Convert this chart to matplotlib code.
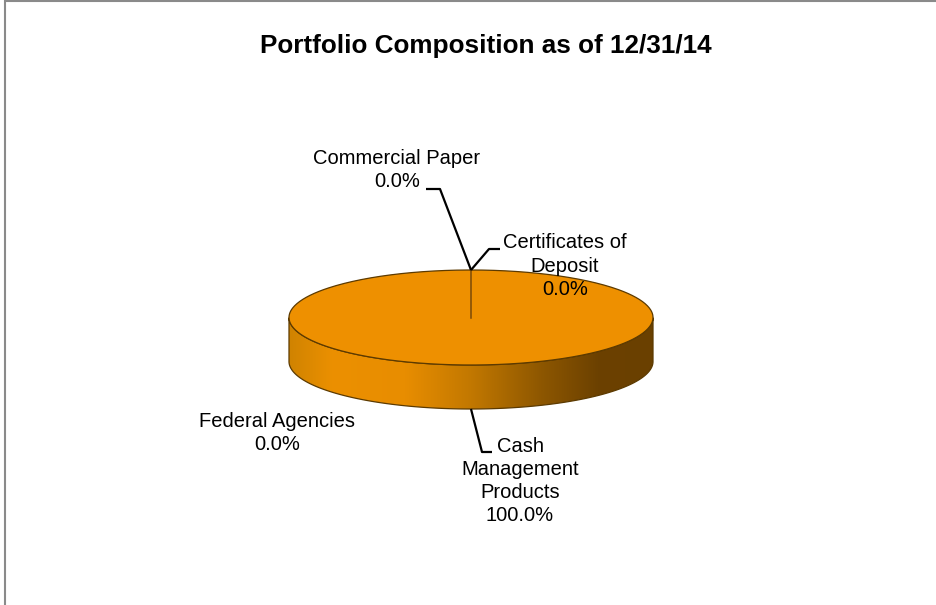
import numpy as np
import matplotlib.pyplot as plt
from matplotlib.patches import Polygon, Rectangle
from matplotlib.colors import LinearSegmentedColormap

plt.rcParams['font.family'] = ['Liberation Sans', 'DejaVu Sans']

title = "Portfolio Composition as of 12/31/14"
categories = ["Certificates of\nDeposit", "Commercial Paper",
              "Cash\nManagement\nProducts", "Federal Agencies"]
values = [0.0, 0.0, 100.0, 0.0]

# label placement (pixels) and leader elbows (None = no leader)
label_xy = [(565, 266), (397, 170), (520, 481), (277, 433)]
elbows = [((489, 249), (500, 249)), ((440, 189), (426, 189)),
          ((482, 452), (492, 452)), None]

# pie layout in pixels
cx, cy, rx, ry, depth = 471, 317.5, 182, 47.5, 44
top_color = "#ee9000"
edge_color = "#5c3a00"

fig = plt.figure(figsize=(9.36, 6.05), dpi=100)
ax = fig.add_axes([0, 0, 1, 1])
ax.set_xlim(0, 936)
ax.set_ylim(605, 0)
ax.axis("off")


def ell(t, dy=0.0):
    return cx + rx * np.cos(t), cy - ry * np.sin(t) + dy


total = sum(values)
edges = 90 - 360 * np.concatenate([[0], np.cumsum(values)]) / total

side_cmap = LinearSegmentedColormap.from_list("side", [
    (0.0, "#d08300"), (0.12, "#ec9000"), (0.32, "#e88d00"),
    (0.5, "#c27800"), (0.7, "#8c5600"), (0.85, "#6c4100"), (1.0, "#6a4000")])

anchors = []
for i, v in enumerate(values):
    a0, a1 = np.radians(edges[i]), np.radians(edges[i + 1])
    mid = (a0 + a1) / 2
    if v > 0:
        t = np.linspace(a0, a1, 400)
        # front side of the slice
        front = t[np.sin(t) <= 0]
        if len(front):
            xs, ys = ell(front)
            xb, yb = ell(front[::-1], depth)
            side = Polygon(np.column_stack([np.r_[xs, xb], np.r_[ys, yb]]),
                           closed=True, facecolor="none", edgecolor=edge_color,
                           lw=0.9, zorder=3)
            ax.add_patch(side)
            grad = np.linspace(0, 1, 256).reshape(1, -1)
            im = ax.imshow(grad, cmap=side_cmap, aspect="auto",
                           extent=(cx - rx, cx + rx, cy + ry + depth + 2, cy - 2),
                           zorder=2)
            im.set_clip_path(side)
        xs, ys = ell(t)
        face = Polygon(np.column_stack([np.r_[cx, xs], np.r_[cy, ys]]),
                       closed=True, facecolor=top_color, edgecolor="none", zorder=4)
        ax.add_patch(face)
        ax.plot(xs, ys, color=edge_color, lw=0.9, zorder=5)
    # anchor for leader: top edge for empty slices, outer bottom for visible ones
    if v > 0 and np.sin(mid) < 0:
        anchors.append(ell(mid, depth))
    else:
        anchors.append(ell(mid))

# slice boundary lines
for e in np.unique(np.round(edges % 360, 6)):
    x1, y1 = ell(np.radians(e))
    ax.plot([cx, x1], [cy, y1], color="#7a4a08", lw=1.1, zorder=6)

for name, v, (lx, ly), elb, anc in zip(categories, values, label_xy, elbows, anchors):
    ax.text(lx, ly, f"{name}\n{v:.1f}%", ha="center", va="center",
            multialignment="center", fontsize=14.5, linespacing=1.27, zorder=8)
    if elb is not None:
        ax.plot([anc[0], elb[0][0], elb[1][0]], [anc[1], elb[0][1], elb[1][1]],
                color="black", lw=1.6, zorder=7, solid_capstyle="butt")

fig.text(486 / 936, 1 - 46 / 605, title, ha="center", va="center",
         fontsize=18.8, fontweight="bold")

fig.patches.append(Rectangle((4.5 / 936, -0.05), 1.2, 1.05 - 1.5 / 605,
                             transform=fig.transFigure, fill=False,
                             edgecolor="#8a8a8a", lw=1.5))

fig.savefig("out.png", dpi=100)
